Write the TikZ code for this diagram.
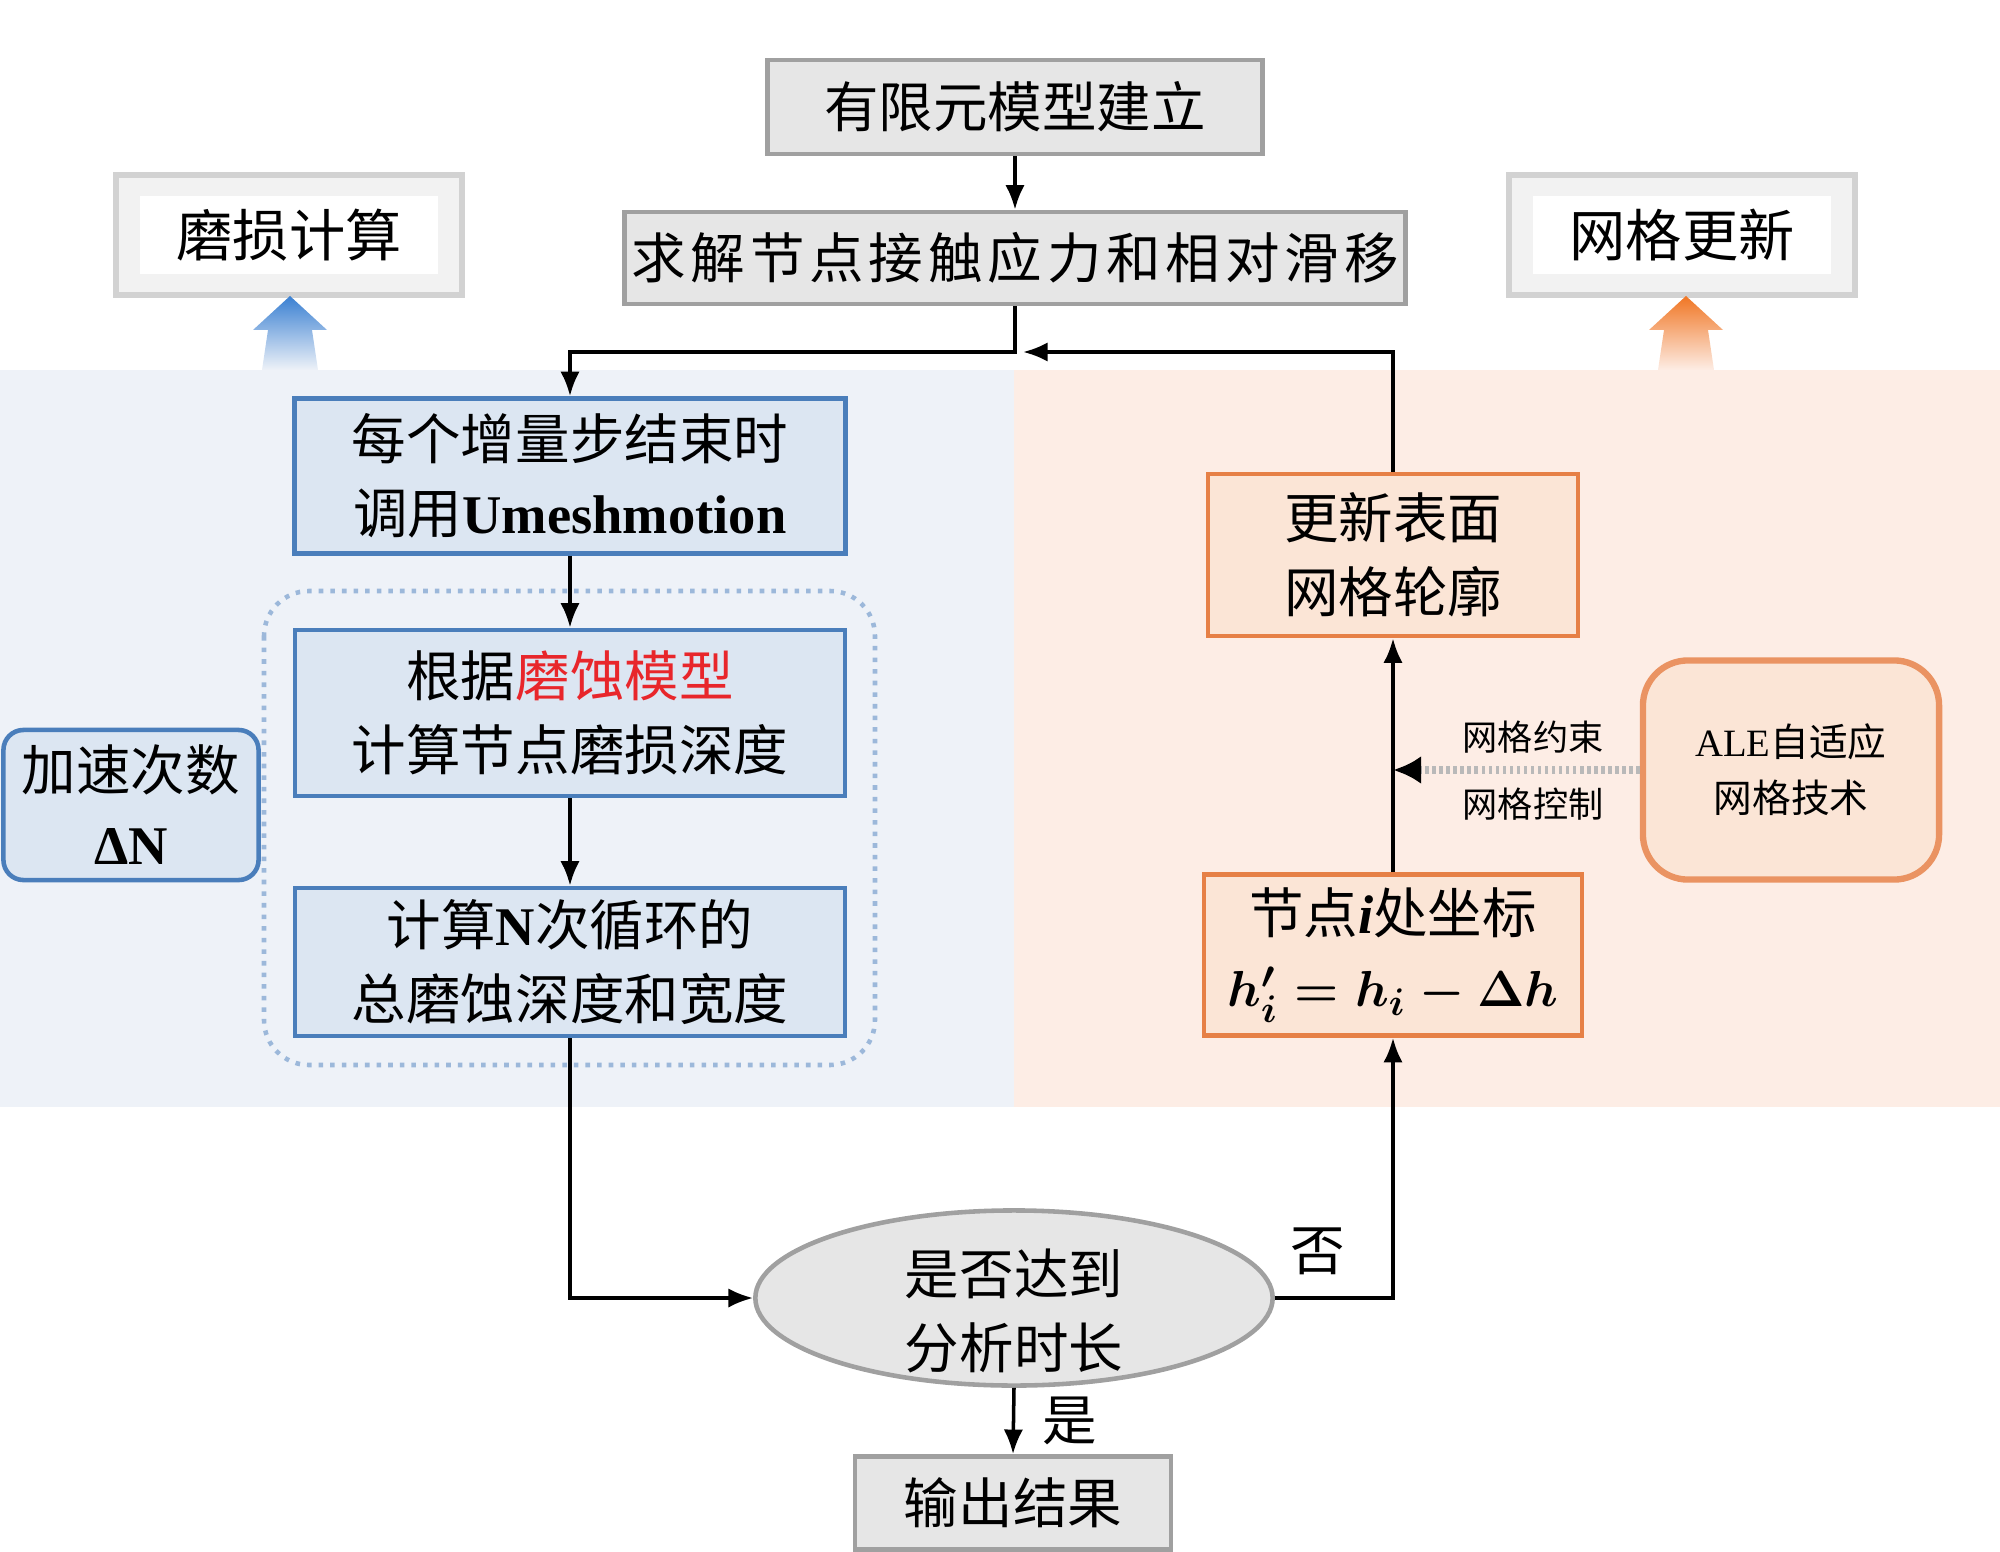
\documentclass[tikz,border=0pt]{standalone}
\usepackage{fontspec}
\usepackage{tikz}
\usetikzlibrary{arrows.meta,shapes.geometric}
\setmainfont{Liberation Serif}
\newfontfamily\cjk{Noto Sans CJK SC}
\newfontfamily\cjkwide[LetterSpace=9]{Noto Sans CJK SC}
\definecolor{bgBlue}{RGB}{238,242,248}
\definecolor{bgOrange}{RGB}{253,237,229}
\definecolor{boxBlue}{RGB}{220,230,242}
\definecolor{lineBlue}{RGB}{74,126,187}
\definecolor{boxOrange}{RGB}{251,229,214}
\definecolor{lineOrange}{RGB}{230,128,70}
\definecolor{boxGray}{RGB}{230,230,230}
\definecolor{lineGray}{RGB}{160,160,160}
\definecolor{tagGray}{RGB}{242,242,242}
\definecolor{modelRed}{RGB}{232,38,43}
\definecolor{arrowBlue}{RGB}{58,128,210}
\definecolor{arrowOrange}{RGB}{240,118,36}
\newcommand{\flowfont}{\cjk\fontsize{15.5pt}{21pt}\selectfont}
\newcommand{\romantxt}[1]{{\rmfamily #1}}

\tikzset{
  flowbox/.style={rectangle, line width=1.3pt, align=center, inner sep=0pt, font=\flowfont},
  graybox/.style={flowbox, draw=lineGray, fill=boxGray},
  bluebox/.style={flowbox, draw=lineBlue, fill=boxBlue},
  orangebox/.style={flowbox, draw=lineOrange, fill=boxOrange},
  tagbox/.style={draw=gray!35, fill=tagGray, line width=1.5pt, minimum width=3.46cm, minimum height=1.2cm},
  tagtext/.style={fill=white, minimum width=2.97cm, minimum height=0.78cm, inner sep=0pt,
    font=\cjk\fontsize{16pt}{20pt}\selectfont},
  flow/.style={line width=1pt, -{Latex[length=7pt,width=5.5pt]}},
  ctrlflow/.style={line width=2.2pt, draw=gray!55, dash pattern=on 1pt off 1pt,
    -{Latex[length=8pt,width=8pt,color=black]}},
  flowlabel/.style={font=\flowfont, inner sep=2pt},
  smalllabel/.style={font=\cjk\fontsize{10pt}{12pt}\selectfont, inner sep=0pt},
}

\begin{document}
\begin{tikzpicture}[x=0.01cm, y=-0.01cm]
  \useasboundingbox (0,0) rectangle (2000,1552);
  % background panels
  \fill[bgBlue] (0,370) rectangle (1014,1107);
  \fill[bgOrange] (1014,370) rectangle (2000,1107);

  % tags with shaded arrows
  \node[tagbox] (wearTag) at (289,235) {};
  \node[tagtext] (wearTxt) at (wearTag) {磨损计算};
  \node[tagbox] (meshTag) at (1682,235) {};
  \node[tagtext] (meshTxt) at (meshTag) {网格更新};
  \shade[top color=arrowBlue, bottom color=bgBlue]
    (290,296) -- (327,330) -- (312,330) -- (318,370) -- (262,370) -- (268,330) -- (253,330) -- cycle;
  \shade[top color=arrowOrange, bottom color=bgOrange]
    (1686,296) -- (1723,330) -- (1708,330) -- (1714,370) -- (1658,370) -- (1664,330) -- (1649,330) -- cycle;

  % main column
  \node[graybox, minimum width=4.95cm, minimum height=0.94cm] (model) at (1015,107) {有限元模型建立};
  \node[graybox, minimum width=7.81cm, minimum height=0.92cm,
    font=\cjkwide\fontsize{15.5pt}{21pt}\selectfont] (solve) at (1015,258) {求解节点接触应力和相对滑移};
  \coordinate (merge) at (1015,352);

  % wear side
  \node[bluebox, minimum width=5.51cm, minimum height=1.55cm] (call) at (570,476)
    {每个增量步结束时\\调用\romantxt{\textbf{Umeshmotion}}};
  \draw[lineBlue!55, dotted, line width=1.3pt, rounded corners=0.45cm] (264,591) rectangle (875,1065);
  \node[bluebox, minimum width=5.5cm, minimum height=1.66cm] (depth) at (570,713)
    {根据\textcolor{modelRed}{磨蚀模型}\\计算节点磨损深度};
  \node[bluebox, minimum width=5.5cm, minimum height=1.48cm] (total) at (570,962)
    {计算\romantxt{\textbf{N}}次循环的\\总磨蚀深度和宽度};
  \node[bluebox, rounded corners=0.2cm, minimum width=2.55cm, minimum height=1.5cm] (accel) at (131,805)
    {加速次数\\\romantxt{\textbf{ΔN}}};

  % mesh side
  \node[orangebox, minimum width=3.7cm, minimum height=1.62cm] (update) at (1393,555) {更新表面\\网格轮廓};
  \node[orangebox, minimum width=3.78cm, minimum height=1.61cm] (coord) at (1393,955)
    {节点\romantxt{\textbf{\textit{i}}}处坐标\\{\boldmath$h'_i = h_i - \Delta h$}};
  \node[orangebox, draw=lineOrange!85, rounded corners=0.45cm, line width=1.8pt,
    minimum width=2.96cm, minimum height=2.19cm, font=\cjk\fontsize{11pt}{16pt}\selectfont] (ale) at (1791,770)
    {\romantxt{ALE}自适应\\网格技术};
  \node[smalllabel] (ctrlTop) at (1533,737) {网格约束};
  \node[smalllabel] (ctrlBot) at (1533,804) {网格控制};

  % decision and output
  \node[ellipse, draw=lineGray, fill=boxGray, line width=1.3pt, minimum width=5.17cm, minimum height=1.75cm,
    inner sep=0pt] (check) at (1014,1298) {};
  \node[align=center, font=\flowfont, inner sep=0pt] (checkTxt) at (1014,1311) {是否达到\\分析时长};
  \node[graybox, minimum width=3.16cm, minimum height=0.93cm] (result) at (1013,1503) {输出结果};

  % connectors
  \draw[flow] (model) -- (solve);
  \draw[flow] (solve.south) -- (merge) -| (call.north);
  \draw[flow] (update.north) |- ([xshift=0.08cm]merge);
  \draw[flow] (call) -- (depth);
  \draw[flow] (depth) -- (total);
  \draw[flow] (total.south) |- (check.west);
  \draw[flow] (check.east) -| (coord.south) node[flowlabel, pos=0.18, above=4pt] {否};
  \draw[flow] (check.south) -- (result.north) node[flowlabel, midway, right=0.2cm] {是};
  \draw[flow] (coord.north) -- (update.south);
  \draw[ctrlflow] (ale.west) -- (ale.west -| coord.north);
\end{tikzpicture}
\end{document}
